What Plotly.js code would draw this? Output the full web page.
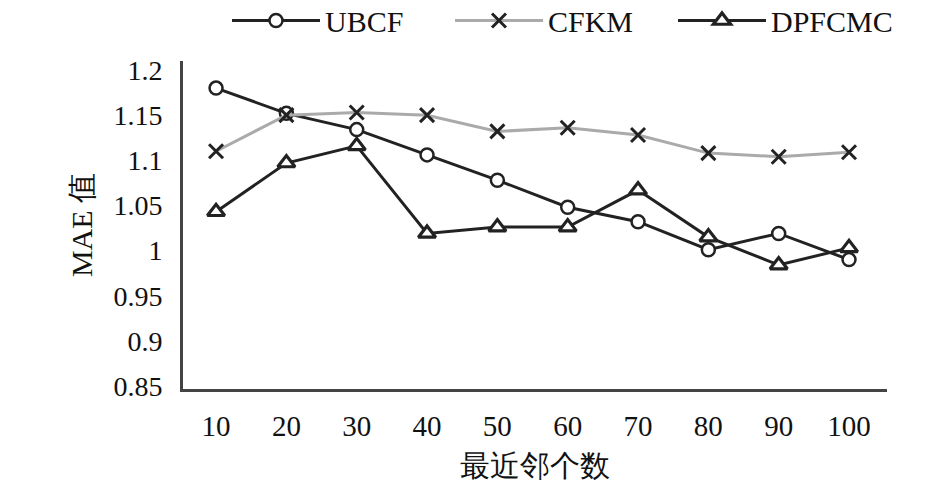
<!DOCTYPE html>
<html>
<head>
<meta charset="utf-8">
<script src="https://cdn.plot.ly/plotly-3.0.1.min.js"></script>
<style>html,body{margin:0;padding:0;background:#fff;}#chart{width:945px;height:488px;}</style>
</head>
<body>
<div id="chart"></div>
<script>
const neighbors = [10, 20, 30, 40, 50, 60, 70, 80, 90, 100];
const ubcf   = [1.180, 1.152, 1.134, 1.106, 1.078, 1.048, 1.032, 1.001, 1.019, 0.990];
const cfkm   = [1.110, 1.150, 1.153, 1.150, 1.132, 1.136, 1.128, 1.108, 1.104, 1.109];
const dpfcmc = [1.043, 1.097, 1.116, 1.019, 1.026, 1.026, 1.067, 1.015, 0.984, 1.003];
const yTicks = [0.85, 0.9, 0.95, 1, 1.05, 1.1, 1.15, 1.2];
const yTickText = ['0.85', '0.9', '0.95', '1', '1.05', '1.1', '1.15', '1.2'];

const serif = "'Liberation Serif', 'Times New Roman', serif";

const traces = [
  {
    x: neighbors, y: ubcf, name: 'UBCF', mode: 'lines+markers',
    line: {color: '#222', width: 3},
    marker: {symbol: 'circle', size: 13, color: '#fff', line: {color: '#222', width: 2.5}}
  },
  {
    x: neighbors, y: cfkm, name: 'CFKM', mode: 'lines+markers',
    line: {color: '#aaa', width: 3},
    marker: {symbol: 'x-thin', size: 14, color: '#222', line: {color: '#222', width: 3}}
  },
  {
    x: neighbors, y: dpfcmc, name: 'DPFCMC', mode: 'lines+markers',
    line: {color: '#222', width: 3},
    marker: {symbol: 'triangle-up', size: 15, color: '#fff', line: {color: '#222', width: 3.2}}
  }
];

const layout = {
  width: 945, height: 488,
  margin: {l: 183, r: 58, t: 61, b: 99, autoexpand: false},
  paper_bgcolor: '#fff', plot_bgcolor: '#fff',
  font: {family: serif, color: '#111', size: 28},
  showlegend: true,
  legend: {
    orientation: 'h', xref: 'container', yref: 'container',
    x: 0.2402, xanchor: 'left', y: 0.958, yanchor: 'middle',
    font: {family: serif, size: 30, color: '#111'},
    itemwidth: 88, entrywidth: 120, entrywidthmode: 'pixels',
    bgcolor: 'rgba(0,0,0,0)'
  },
  xaxis: {
    range: [5.3, 105.4], tickvals: neighbors, ticktext: neighbors.map(String),
    showgrid: false, zeroline: false, showline: true, linecolor: '#444', linewidth: 3,
    ticks: '', ticklabelstandoff: 9,
    tickfont: {family: serif, size: 29, color: '#111'},
    title: {text: '最近邻个数', font: {family: serif, size: 30, color: '#111'}, standoff: 15}
  },
  yaxis: {
    range: [0.8467, 1.210], tickvals: yTicks, ticktext: yTickText,
    showgrid: false, zeroline: false, showline: true, linecolor: '#444', linewidth: 3,
    ticks: '', ticklabelstandoff: 12,
    tickfont: {family: serif, size: 28, color: '#111'},
    title: {text: 'MAE 值', font: {family: serif, size: 30, color: '#111'}, standoff: 12}
  }
};

Plotly.newPlot('chart', traces, layout, {displayModeBar: false, staticPlot: true});
</script>
</body>
</html>
